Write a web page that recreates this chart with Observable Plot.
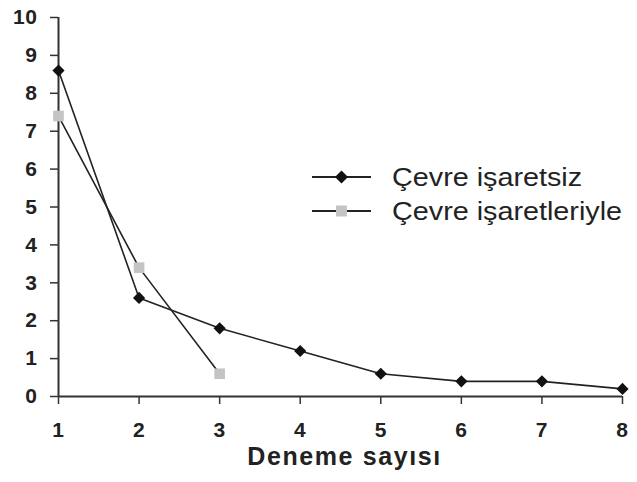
<!DOCTYPE html>
<html>
<head>
<meta charset="utf-8">
<script src="https://cdn.jsdelivr.net/npm/d3@7"></script>
<script src="https://cdn.jsdelivr.net/npm/@observablehq/plot@0.6"></script>
<style>
  html, body { margin: 0; padding: 0; background: #fff; }
  #wrap { position: relative; width: 637px; height: 482px; font-family: "Liberation Sans", Arial, sans-serif; }
  #legend { position: absolute; left: 312px; top: 160px; font-size: 25px; color: #222; }
  .row { display: flex; align-items: center; height: 34px; }
  .row svg { margin-right: 21px; }
  .row span { display: inline-block; transform: scaleX(1.15); transform-origin: left center; }
  #wrap svg g[aria-label*="tick label"] { font-size: 21px; font-weight: bold; letter-spacing: 0.6px; }
</style>
</head>
<body>
<div id="wrap"></div>
<script>
const trials = [1, 2, 3, 4, 5, 6, 7, 8];
const unmarked = [8.6, 2.6, 1.8, 1.2, 0.6, 0.4, 0.4, 0.2];
const markedTrials = [1, 2, 3];
const marked = [7.4, 3.4, 0.6];
const seriesNames = ["Çevre işaretsiz", "Çevre işaretleriyle"];
const xTicks = [1, 2, 3, 4, 5, 6, 7, 8];
const yTicks = [0, 1, 2, 3, 4, 5, 6, 7, 8, 9, 10];
const xLabel = "Deneme sayısı";

const dataA = trials.map((t, i) => ({x: t, y: unmarked[i]}));
const dataB = markedTrials.map((t, i) => ({x: t, y: marked[i]}));

const lineColor = "#222";
const grayColor = "#c4c4c4";

const chart = Plot.plot({
  width: 637,
  height: 482,
  marginLeft: 58,
  marginRight: 15,
  marginTop: 17,
  marginBottom: 86,
  style: {fontFamily: "'Liberation Sans', Arial, sans-serif", background: "#fff", fontSize: "20px"},
  x: {domain: [1, 8]},
  y: {domain: [0, 10]},
  marks: [
    Plot.axisY({ticks: yTicks, tickFormat: d => String(d), tickSize: 8, tickPadding: 13, label: null, fontSize: 21, fontWeight: "bold", stroke: "#333", strokeWidth: 1.5, fill: "#222"}),
    Plot.axisX({ticks: xTicks, tickFormat: d => String(d), tickSize: 8, tickPadding: 18, fontSize: 21, fontWeight: "bold", stroke: "#333", strokeWidth: 1.5, fill: "#222", label: null}),
    Plot.ruleX([1], {y1: 0, y2: 10, stroke: "#333", strokeWidth: 2}),
    Plot.ruleY([0], {x1: 1, x2: 8, stroke: "#333", strokeWidth: 2}),
    Plot.line(dataB, {x: "x", y: "y", stroke: lineColor, strokeWidth: 1.6}),
    Plot.line(dataA, {x: "x", y: "y", stroke: lineColor, strokeWidth: 1.6}),
    Plot.dot(dataB, {x: "x", y: "y", symbol: "square", r: 6, fill: grayColor, stroke: "none"}),
    Plot.dot(dataA, {x: "x", y: "y", symbol: "diamond2", r: 5.5, fill: "#111", stroke: "none"}),
    Plot.text([xLabel], {frameAnchor: "bottom", dx: 4, dy: 68, fontSize: 25, fontWeight: "bold", fill: "#222"})
  ]
});

const wrap = document.getElementById("wrap");
wrap.appendChild(chart);
d3.select(chart).selectAll('g[aria-label="text"] text').style("letter-spacing", "1.6px");

const legend = document.createElement("div");
legend.id = "legend";
const sym = [
  `<svg width="59" height="16"><line x1="0" y1="8" x2="59" y2="8" stroke="${lineColor}" stroke-width="2"/><path d="M29.5,1.5 L36,8 L29.5,14.5 L23,8 Z" fill="#111"/></svg>`,
  `<svg width="59" height="16"><line x1="0" y1="8" x2="59" y2="8" stroke="${lineColor}" stroke-width="2"/><rect x="24" y="2.5" width="11" height="11" fill="${grayColor}"/></svg>`
];
legend.innerHTML = seriesNames.map((n, i) => `<div class="row">${sym[i]}<span>${n}</span></div>`).join("");
wrap.appendChild(legend);
</script>
</body>
</html>
